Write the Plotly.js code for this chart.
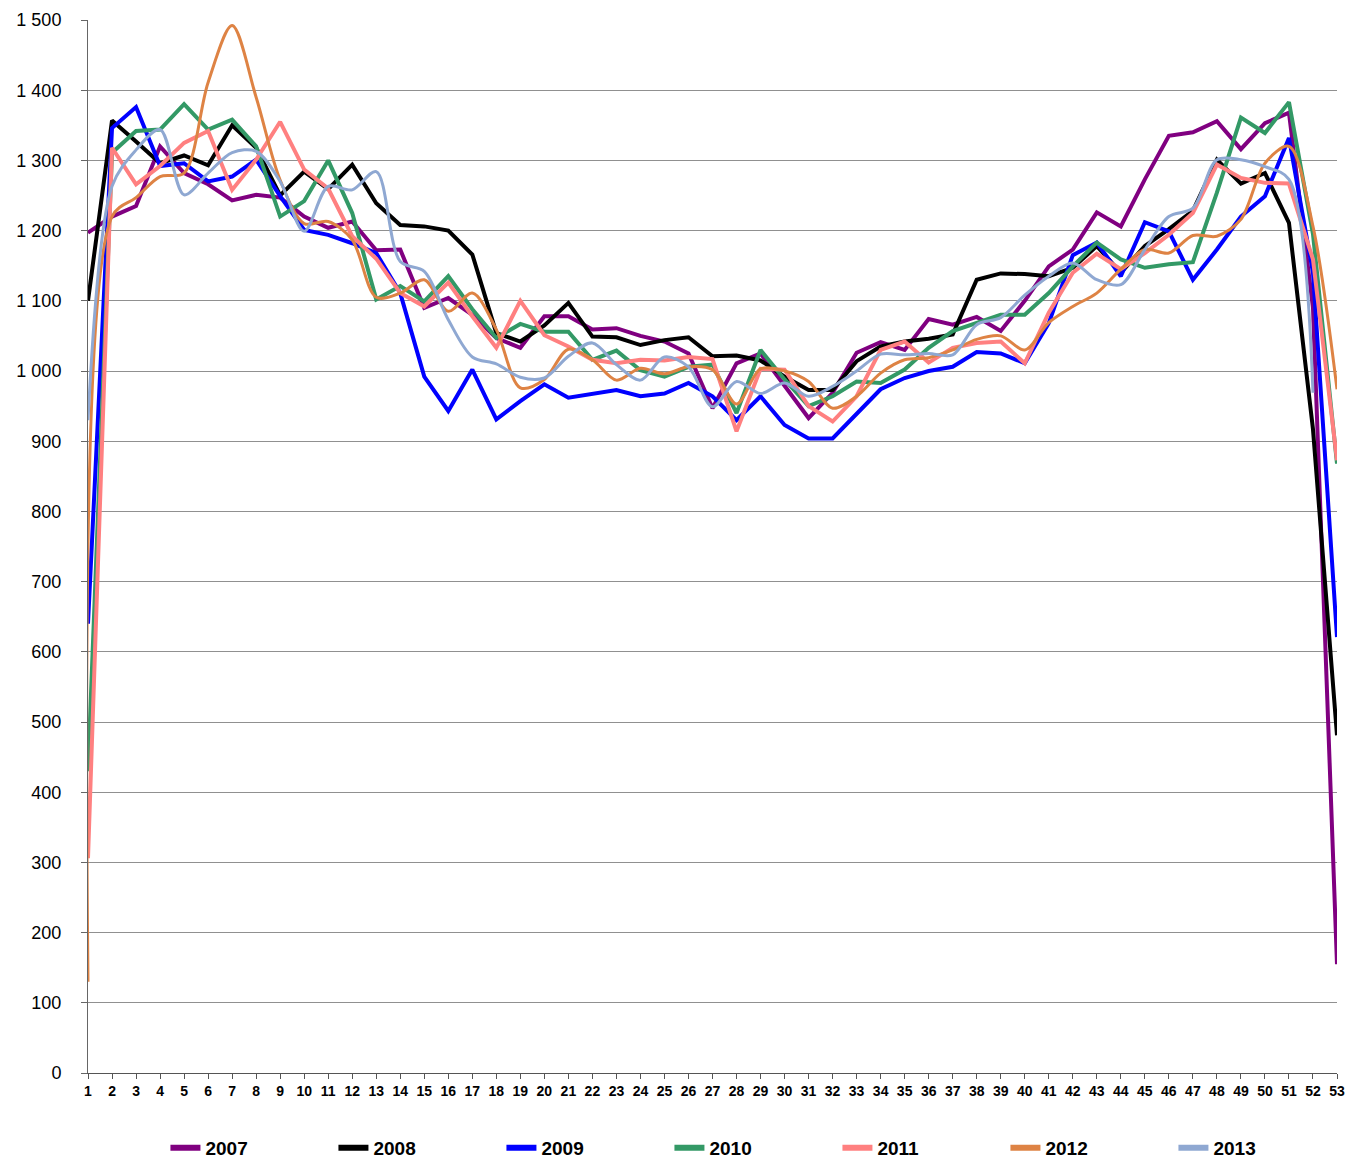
<!DOCTYPE html>
<html>
<head>
<meta charset="utf-8">
<script src="https://cdn.plot.ly/plotly-3.0.1.min.js"></script>
<style>html,body{margin:0;padding:0;background:#fff;}#chart{width:1348px;height:1160px;}</style>
</head>
<body>
<div id="chart"></div>
<script>
const weeks = Array.from({length: 53}, (_, i) => i + 1);
const weekLabels = weeks.map(String);

const years = ['2007', '2008', '2009', '2010', '2011', '2012', '2013'];

const v2007 = [1197,1220,1235,1320,1282,1266,1243,1251,1247,1220,1204,1213,1172,1173,1090,1104,1080,1047,1033,1078,1078,1059,1061,1050,1042,1025,947,1011,1025,980,933,969,1026,1041,1030,1074,1066,1077,1057,1100,1149,1173,1226,1206,1273,1335,1340,1356,1316,1353,1368,1090,155];
const v2008 = [1100,1357,1327,1296,1307,1293,1350,1318,1250,1284,1259,1294,1239,1208,1206,1200,1166,1054,1042,1065,1097,1049,1048,1037,1044,1048,1021,1022,1015,992,973,973,1014,1035,1042,1046,1052,1130,1139,1138,1135,1147,1178,1140,1178,1202,1228,1301,1267,1282,1211,917,481];
const v2009 = [640,1346,1376,1292,1296,1270,1277,1301,1249,1201,1194,1182,1168,1111,992,943,1002,931,957,981,962,968,973,964,968,983,964,930,964,923,904,904,940,974,990,1000,1006,1027,1025,1011,1068,1165,1183,1135,1212,1199,1130,1173,1220,1249,1332,1140,621];
const v2010 = [430,1311,1342,1344,1380,1344,1358,1320,1220,1242,1300,1225,1102,1121,1099,1135,1088,1047,1067,1056,1056,1016,1029,1001,992,1006,1009,940,1030,988,950,964,985,983,1002,1033,1057,1069,1080,1080,1111,1149,1183,1159,1147,1152,1155,1254,1361,1339,1383,1195,868];
const v2011 = [306,1318,1266,1292,1325,1342,1258,1301,1355,1287,1260,1192,1160,1111,1092,1126,1078,1033,1100,1051,1035,1016,1011,1016,1015,1020,1017,914,1003,1002,950,928,964,1030,1042,1012,1033,1040,1042,1011,1083,1140,1167,1145,1168,1194,1225,1294,1275,1268,1267,1159,873];
const v2012 = [130,1220,1247,1277,1282,1411,1492,1390,1272,1210,1213,1187,1105,1111,1130,1085,1111,1059,976,988,1031,1016,987,1004,996,1006,1002,953,1003,1000,985,947,964,997,1016,1019,1030,1045,1050,1030,1069,1092,1111,1145,1173,1168,1193,1192,1216,1296,1320,1206,974];
const v2013 = [930,1263,1315,1344,1251,1282,1311,1313,1270,1199,1263,1258,1284,1156,1142,1073,1020,1010,991,990,1021,1040,1009,987,1020,1006,949,985,968,983,964,978,1000,1024,1023,1025,1023,1066,1076,1108,1135,1154,1130,1123,1173,1220,1232,1301,1301,1291,1273,969];

const yTickVals = [0,100,200,300,400,500,600,700,800,900,1000,1100,1200,1300,1400,1500];
const yTickText = ['0','100','200','300','400','500','600','700','800','900','1 000','1 100','1 200','1 300','1 400','1 500'];

const seriesValues = [v2007, v2008, v2009, v2010, v2011, v2012, v2013];
const colors = ['#800080', '#000000', '#0000FF', '#339966', '#FF8080', '#DE8344', '#8FA8D2'];
const smooth = [false, false, false, false, false, true, true];

const traces = [];
seriesValues.forEach((vals, i) => {
  traces.push({
    type: 'scatter', mode: 'lines', name: years[i],
    x: weeks.slice(0, vals.length), y: vals,
    line: {color: colors[i], width: smooth[i] ? 3 : 4, shape: smooth[i] ? 'spline' : 'linear', smoothing: 0.9},
    showlegend: false, hoverinfo: 'skip'
  });
});
years.forEach((yr, i) => {
  traces.push({
    type: 'scatter', mode: 'lines', name: yr,
    x: [null], y: [null],
    line: {color: colors[i], width: 6},
    showlegend: true
  });
});

const layout = {
  width: 1348, height: 1160,
  margin: {l: 88, r: 11, t: 20, b: 87, autoexpand: false},
  paper_bgcolor: '#ffffff', plot_bgcolor: '#ffffff',
  font: {family: 'Liberation Sans, Arial, sans-serif', color: '#000'},
  showlegend: true,
  legend: {
    orientation: 'h', x: 0.062, xanchor: 'left', y: -0.053, yanchor: 'top',
    entrywidth: 123, entrywidthmode: 'pixels',
    font: {family: 'Liberation Sans, Arial, sans-serif', size: 19, color: '#000', weight: 'bold'},
    itemwidth: 30, tracegroupgap: 0
  },
  xaxis: {
    range: [1, 53], tickmode: 'array', tickvals: weeks, ticktext: weekLabels,
    showgrid: false, zeroline: false, showline: true, linecolor: '#555', linewidth: 1,
    ticks: 'outside', ticklen: 5, tickcolor: '#555',
    tickfont: {family: 'Liberation Sans, Arial, sans-serif', size: 14, color: '#000', weight: 'bold'},
    fixedrange: true
  },
  yaxis: {
    range: [0, 1500], tickmode: 'array', tickvals: yTickVals, ticktext: yTickText,
    showgrid: true, gridcolor: '#909090', gridwidth: 1, zeroline: false,
    showline: true, linecolor: '#666', linewidth: 1,
    ticks: 'outside', ticklen: 6, tickcolor: '#666', ticklabelstandoff: 16,
    tickfont: {family: 'Liberation Sans, Arial, sans-serif', size: 18, color: '#000'},
    fixedrange: true
  }
};

Plotly.newPlot('chart', traces, layout, {displayModeBar: false, staticPlot: true});
</script>
</body>
</html>
